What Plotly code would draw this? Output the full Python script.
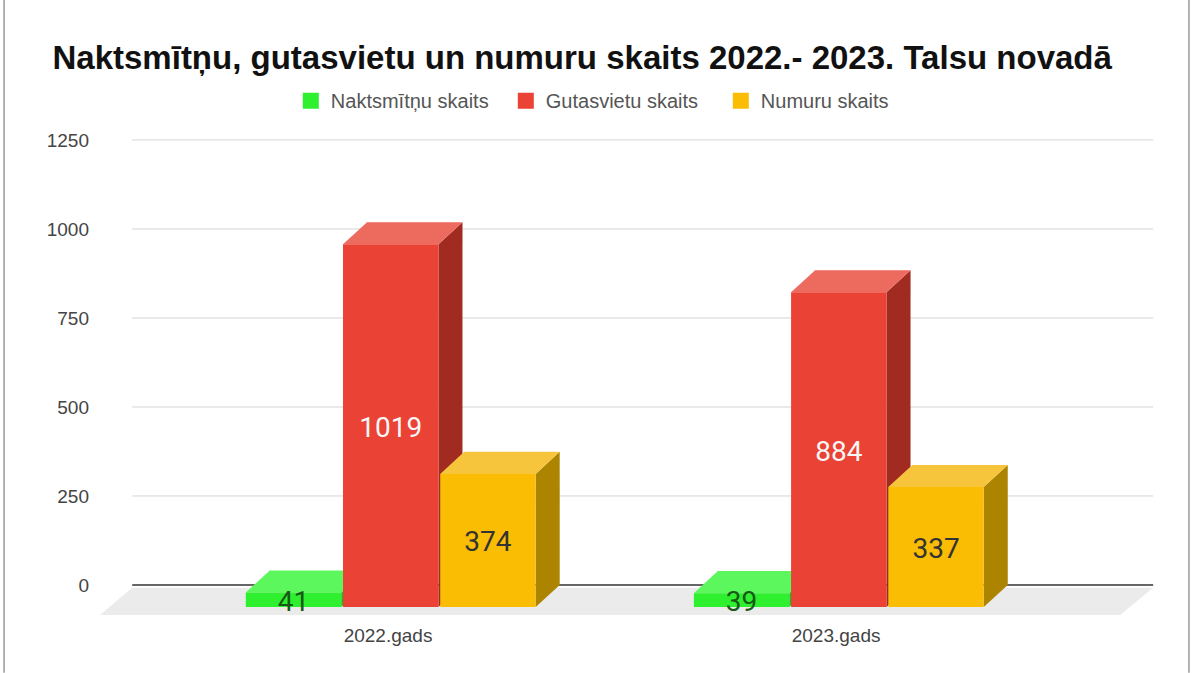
import plotly.graph_objects as go

# data
categories = ["2022.gads", "2023.gads"]
series_names = ["Naktsmītņu skaits", "Gutasvietu skaits", "Numuru skaits"]
naktsmitnu = [41, 39]
gutasvietu = [1019, 884]
numuru = [374, 337]
y_ticks = [0, 250, 500, 750, 1000, 1250]

series_values = [naktsmitnu, gutasvietu, numuru]

# styles: front / top / side face colours and label colour per series
front_colors = ["#2ef02e", "#ea4335", "#fbbc04"]
top_colors = ["#5cf75c", "#ec6a5e", "#f6c53c"]
side_colors = ["#1fb81f", "#a22b21", "#ad8400"]
label_colors = ["#165a16", "#f7f7f7", "#333333"]

# pseudo-3d geometry (data units)
DEPTH_X = 0.0536
DEPTH_Y = 62
BAR_W = 0.213
BAR_STEP = 0.217
GROUP_SHIFT = 0.006
LABEL_DROP = 11

X_RANGE = [-0.654, 1.734]
Y_RANGE = [-92.7, 1306]
GRID_X = (-0.571, 1.7076)

FONT = "Liberation Sans, Arial, sans-serif"

fig = go.Figure()
shapes = []

# floor
shapes.append(dict(
    type="path", xref="x", yref="y", layer="below",
    path=f"M {GRID_X[0]},-8 L {GRID_X[1]},-8 L 1.634,-84 L -0.643,-84 Z",
    fillcolor="#ebebeb", line=dict(width=0),
))
# gridlines
for t in y_ticks[1:]:
    shapes.append(dict(type="line", xref="x", yref="y", layer="below",
                       x0=GRID_X[0], x1=GRID_X[1], y0=t, y1=t,
                       line=dict(color="#d4d4d4", width=1)))
shapes.append(dict(type="line", xref="x", yref="y", layer="below",
                   x0=GRID_X[0], x1=GRID_X[1], y0=0, y1=0,
                   line=dict(color="#333333", width=1.5)))

for k, (name, vals) in enumerate(zip(series_names, series_values)):
    centers = [i + (k - 1) * BAR_STEP + GROUP_SHIFT for i in range(len(categories))]
    # front face
    fig.add_trace(go.Bar(
        x=centers, y=vals, base=-DEPTH_Y, width=BAR_W,
        marker=dict(color=front_colors[k], line=dict(width=0)),
        name=name, showlegend=False, hoverinfo="skip",
    ))
    # top and side faces
    for c, v in zip(centers, vals):
        x0, x1 = c - BAR_W / 2, c + BAR_W / 2
        yf = v - DEPTH_Y
        shapes.append(dict(
            type="path", xref="x", yref="y", layer="below",
            path=(f"M {x1},{-DEPTH_Y} L {x1},{yf} L {x1 + DEPTH_X},{v} "
                  f"L {x1 + DEPTH_X},0 Z"),
            fillcolor=side_colors[k], line=dict(width=0),
        ))
        shapes.append(dict(
            type="path", xref="x", yref="y", layer="below",
            path=(f"M {x0},{yf} L {x1},{yf} L {x1 + DEPTH_X},{v} "
                  f"L {x0 + DEPTH_X},{v} Z"),
            fillcolor=top_colors[k], line=dict(width=0),
        ))
    # value labels, centred on the front face
    fig.add_trace(go.Scatter(
        x=centers, y=[v / 2 - DEPTH_Y - LABEL_DROP for v in vals],
        mode="text", text=[str(v) for v in vals],
        textfont=dict(family="Roboto, sans-serif", size=28, color=label_colors[k]),
        showlegend=False, hoverinfo="skip", cliponaxis=False,
    ))
    # legend entry
    fig.add_trace(go.Scatter(
        x=[None], y=[None], mode="markers", name=name,
        marker=dict(symbol="square", size=16, color=front_colors[k]),
    ))

# thin frame of the screenshot
for px in (-0.085, 1.0224):
    shapes.append(dict(type="line", xref="paper", yref="paper",
                       x0=px, x1=px, y0=-0.11, y1=1.241,
                       line=dict(color="#9a9a9a", width=1.5)))

fig.update_layout(
    width=1193, height=673,
    margin=dict(l=95, r=28, t=120, b=55),
    paper_bgcolor="white", plot_bgcolor="white",
    shapes=shapes,
    barmode="overlay",
    title=dict(
        text="<b>Naktsmītņu, gutasvietu un numuru skaits 2022.- 2023. Talsu novadā</b>",
        x=0.488, xanchor="center", y=0.914, yanchor="middle",
        font=dict(family=FONT, size=33, color="#111111"),
    ),
    legend=dict(
        orientation="h", x=0.183, xanchor="left", y=1.078, yanchor="top",
        font=dict(family=FONT, size=20, color="#555555"),
        itemsizing="trace", entrywidth=170,
    ),
    xaxis=dict(
        range=X_RANGE, tickvals=[0, 1], ticktext=categories,
        showgrid=False, zeroline=False, showline=False, ticks="",
        ticklabelstandoff=4,
        tickfont=dict(family=FONT, size=19, color="#444444"),
    ),
    yaxis=dict(
        range=Y_RANGE, tickvals=y_ticks,
        showgrid=False, zeroline=False, showline=False, ticks="",
        ticklabelstandoff=5,
        tickfont=dict(family=FONT, size=19, color="#444444"),
    ),
)

# the page body has a default 8px margin; drop it so the figure sits at 0,0
fig.write_html("out.html", config={"displayModeBar": False},
               post_script="document.body.style.margin = '0';")
